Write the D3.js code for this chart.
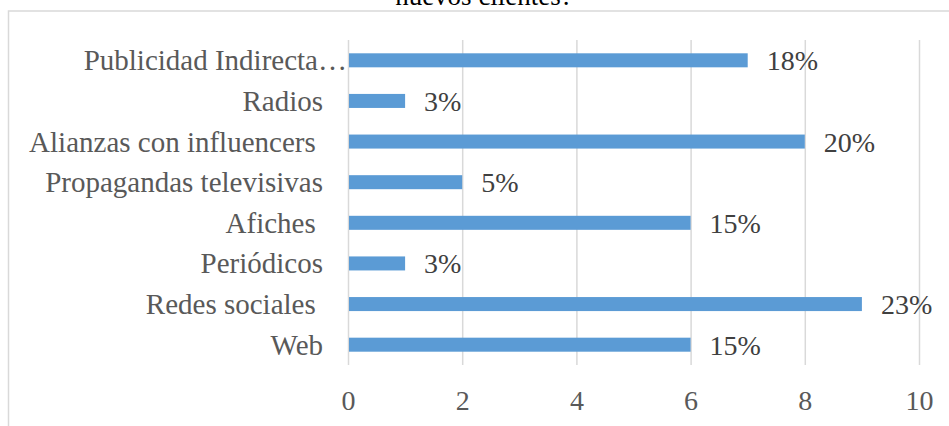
<!DOCTYPE html>
<html><head><meta charset="utf-8">
<script src="https://cdn.jsdelivr.net/npm/d3@7"></script>
<style>html,body{margin:0;padding:0;background:#fff;overflow:hidden}</style>
</head><body>
<svg id="c" width="949" height="426"></svg>
<script>
const categories = ["Publicidad Indirecta…","Radios","Alianzas con influencers ","Propagandas televisivas","Afiches ","Periódicos","Redes sociales ","Web"];
const values = [7,1,8,2,6,1,9,6];
const pctLabels = ["18%","3%","20%","5%","15%","3%","23%","15%"];
const xTicks = [0,2,4,6,8,10];
const titleText = "nuevos clientes?";

const svg = d3.select("#c");
const font = "'Liberation Serif','Times New Roman',serif";
const m = {left:348, right:919, top:40, bottom:365};

svg.append("rect").attr("x",8.5).attr("y",11).attr("width",1000).attr("height",500)
  .attr("fill","none").attr("stroke","#d9d9d9").attr("stroke-width",1.5);

svg.append("text").attr("x",484).attr("y",5).attr("text-anchor","middle")
  .attr("font-family",font).attr("font-size",27).attr("fill","#000").text(titleText);

const x = d3.scaleLinear().domain([0,10]).range([m.left,m.right]);
const y = d3.scaleBand().domain(categories).range([m.top,m.bottom]).paddingInner(0.655).paddingOuter(0.3275);

const grid = svg.append("g").attr("transform",`translate(0,${m.bottom})`)
  .call(d3.axisBottom(x).tickValues(xTicks).tickSize(-(m.bottom-m.top)).tickPadding(22));
grid.select(".domain").remove();
grid.selectAll(".tick line").attr("stroke","#d9d9d9").attr("stroke-width",1.5);
grid.selectAll(".tick text").attr("font-family",font).attr("font-size",28).attr("fill","#595959")
  .attr("dy","0.71em").attr("y",25);

svg.append("g").selectAll("rect").data(values).join("rect")
  .attr("x",x(0)+1).attr("y",(d,i)=>y(categories[i]))
  .attr("width",d=>x(d)-x(0)-1).attr("height",y.bandwidth()).attr("fill","#5b9bd5");

svg.append("g").selectAll("text").data(categories).join("text")
  .attr("x",(d,i)=> i===0 ? 347 : 323)
  .attr("y",d=>y(d)+y.bandwidth()/2+10)
  .attr("text-anchor","end").style("white-space","pre")
  .attr("font-family",font).attr("font-size",29).attr("fill","#595959").text(d=>d);

svg.append("g").selectAll("text").data(values).join("text")
  .attr("x",d=>x(d)+19).attr("y",(d,i)=>y(categories[i])+y.bandwidth()/2+10)
  .attr("font-family",font).attr("font-size",28).attr("fill","#404040").text((d,i)=>pctLabels[i]);
</script>
</body></html>
